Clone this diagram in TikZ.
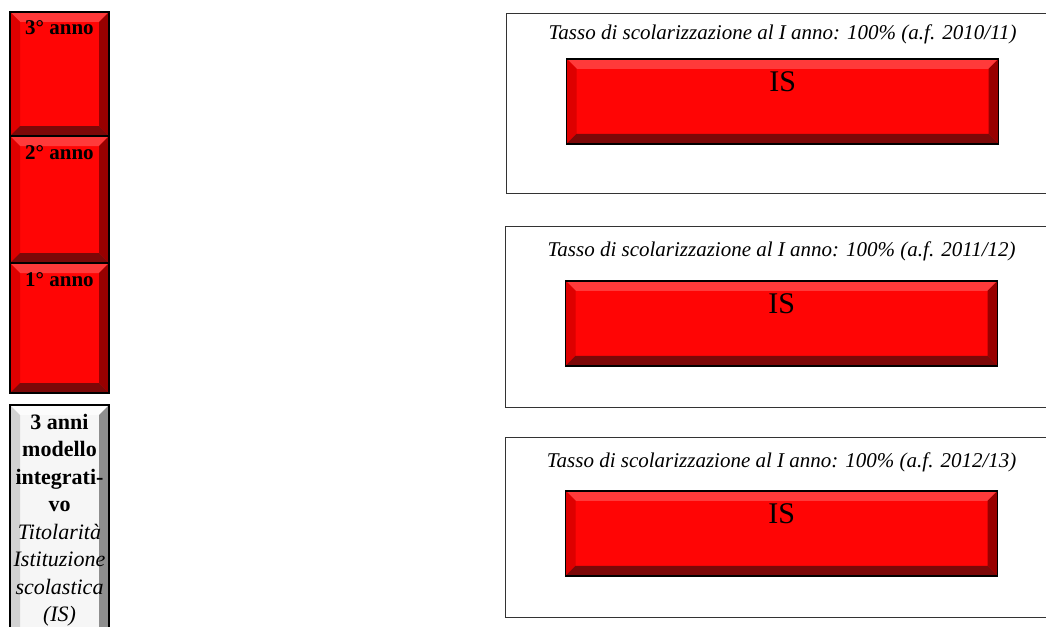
\documentclass[tikz,border=0pt]{standalone}
\usepackage{fontspec}
\setmainfont{Liberation Serif}
\usetikzlibrary{positioning}
\definecolor{redface}{HTML}{FF0505}
\definecolor{redtop}{HTML}{FF3A3A}
\definecolor{redleft}{HTML}{DE0000}
\definecolor{redright}{HTML}{980000}
\definecolor{redbottom}{HTML}{7C0808}
\definecolor{greyface}{HTML}{F6F6F6}
\definecolor{greytop}{HTML}{FCFCFC}
\definecolor{greyleft}{HTML}{D2D2D2}
\definecolor{greyright}{HTML}{8E8E8E}
\definecolor{greybottom}{HTML}{A4A4A4}
\definecolor{framegrey}{HTML}{333333}
\newcommand\bevelw{10pt}
\tikzset{
  bevel/.style n args={4}{path picture={
    \path (path picture bounding box.north west) coordinate (bnw)
          (path picture bounding box.north east) coordinate (bne)
          (path picture bounding box.south west) coordinate (bsw)
          (path picture bounding box.south east) coordinate (bse);
    \coordinate (inw) at ([shift={(\bevelw,-\bevelw)}]bnw);
    \coordinate (ine) at ([shift={(-\bevelw,-\bevelw)}]bne);
    \coordinate (isw) at ([shift={(\bevelw,\bevelw)}]bsw);
    \coordinate (ise) at ([shift={(-\bevelw,\bevelw)}]bse);
    \fill[#1] (bnw) -- (bne) -- (ine) -- (inw) -- cycle;
    \fill[#2] (bnw) -- (inw) -- (isw) -- (bsw) -- cycle;
    \fill[#3] (bne) -- (bse) -- (ise) -- (ine) -- cycle;
    \fill[#4] (bsw) -- (isw) -- (ise) -- (bse) -- cycle;
  }}
}

\begin{document}
\begin{tikzpicture}[
  x=1pt, y=-1pt,
  yearbox/.style={draw=black, line width=1.6pt, fill=redface, bevel={redtop}{redleft}{redright}{redbottom},
    minimum width=99pt, inner ysep=9pt, text height=14pt, outer sep=0pt,
    font=\fontsize{21}{25}\selectfont\bfseries},
  modbox/.style={draw=black, line width=1.6pt, fill=greyface, bevel={greytop}{greyleft}{greyright}{greybottom},
    minimum width=99pt, minimum height=240pt, outer sep=0pt},
  modtext/.style={align=center, inner sep=0pt, font=\fontsize{22}{27.5}\selectfont},
  frame/.style={draw=framegrey, line width=1.3pt, minimum width=552pt, minimum height=180pt, inner sep=0pt},
  title/.style={inner sep=0pt, font=\fontsize{21}{25}\selectfont\itshape},
  isbar/.style={draw=black, line width=1.6pt, fill=redface, bevel={redtop}{redleft}{redright}{redbottom},
    minimum width=432pt, inner ysep=12pt, text height=21pt, text depth=40pt,
    font=\fontsize{30}{36}\selectfont}
]
\useasboundingbox (0,0) rectangle (1046,626);
\clip (0,0) rectangle (1046,626);

% colonna degli anni
\node[yearbox, anchor=north west, text depth=92pt] (anno3) at (10,12) {3° anno};
\node[yearbox, below=0pt of anno3, text depth=95pt] (anno2) {2° anno};
\node[yearbox, below=0pt of anno2, text depth=98pt] (anno1) {1° anno};
\node[modbox, below=12pt of anno1] (modello) {};
\node[modtext, below=9pt of modello.north] (modtxt)
  {\textbf{3 anni}\\\textbf{modello}\\\textbf{integrati-}\\\textbf{vo}\\
   \textit{Titolarità}\\\textit{Istituzione}\\\textit{scolastica}\\\textit{(IS)}};

% riquadri per anno formativo
\node[frame, anchor=north west] (frame1) at (506,13) {};
\node[title, anchor=base] (title1) at ([yshift=-27pt]frame1.north) {Tasso di scolarizzazione al I anno: 100\% (a.f. 2010/11)};
\node[isbar, anchor=north] (bar1) at ([yshift=-45pt]frame1.north) {IS};

\node[frame, anchor=north west, minimum height=181pt] (frame2) at (505,226) {};
\node[title, anchor=base] (title2) at ([yshift=-30pt]frame2.north) {Tasso di scolarizzazione al I anno: 100\% (a.f. 2011/12)};
\node[isbar, anchor=north] (bar2) at ([yshift=-54pt]frame2.north) {IS};

\node[frame, anchor=north west] (frame3) at (505,437) {};
\node[title, anchor=base] (title3) at ([yshift=-30pt]frame3.north) {Tasso di scolarizzazione al I anno: 100\% (a.f. 2012/13)};
\node[isbar, anchor=north] (bar3) at ([yshift=-53pt]frame3.north) {IS};
\end{tikzpicture}
\end{document}
